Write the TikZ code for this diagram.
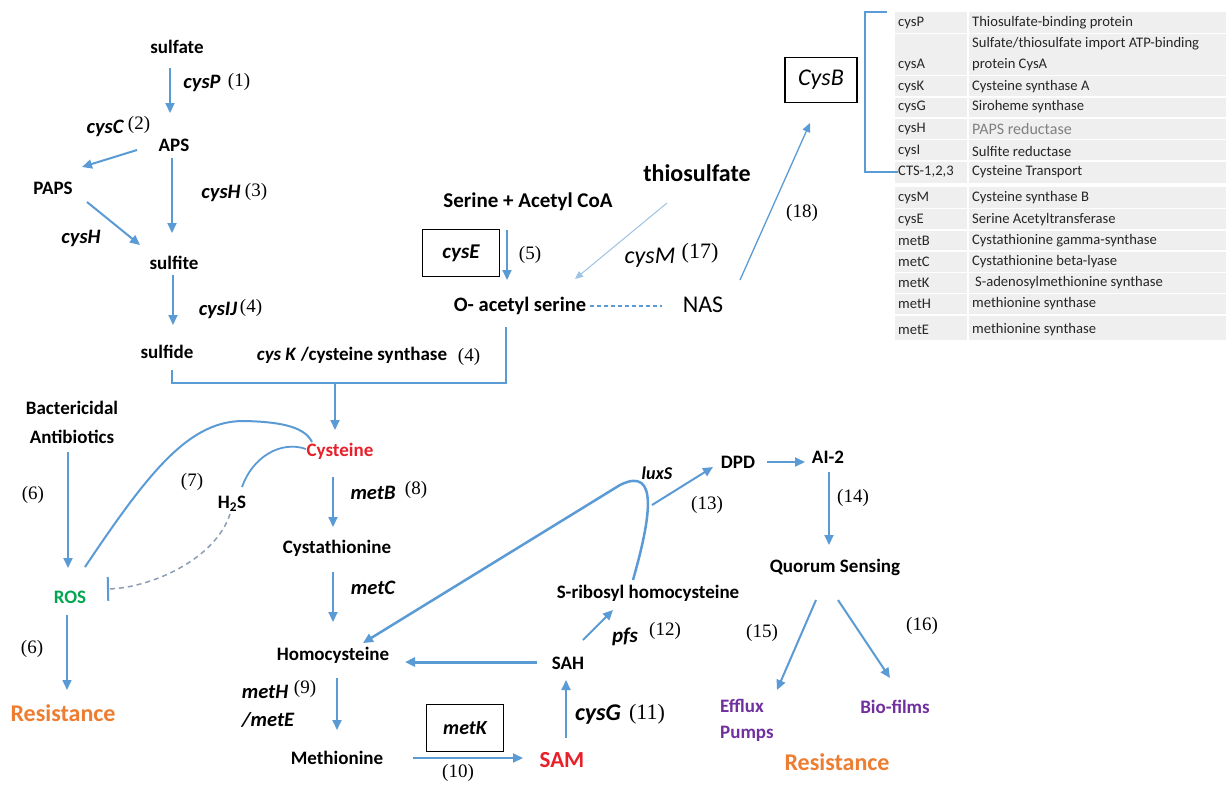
\documentclass[tikz,border=0pt]{standalone}
\usepackage{fontspec}
\setmainfont{Carlito}
\newfontfamily\numfont{Liberation Serif}
\usetikzlibrary{arrows.meta, calc}
\definecolor{pathblue}{HTML}{5B9BD5}
\definecolor{paleblue}{HTML}{9DC3E6}
\definecolor{inhibgray}{HTML}{8C9DB5}
\definecolor{cysred}{HTML}{E8202A}
\definecolor{rosgreen}{HTML}{00A651}
\definecolor{resorange}{HTML}{ED7D31}
\definecolor{qspurple}{HTML}{7030A0}
\definecolor{cellgray}{HTML}{EFEFEF}
\definecolor{celltext}{HTML}{262626}

\begin{document}
\begin{tikzpicture}[x=1pt, y=-1pt, every node/.style={inner sep=0pt},
    lbl/.style={font=\bfseries\fontsize{19}{22}\selectfont},
    gene/.style={font=\bfseries\itshape\fontsize{20.5}{22}\selectfont},
    num/.style={font=\numfont\fontsize{19}{21}\selectfont},
    big/.style={font=\fontsize{24}{26}\selectfont},
    genebox/.style={draw, line width=1.3pt, minimum width=77pt, minimum height=47pt},
    flow/.style={pathblue, line width=2pt, -{Triangle[length=10pt,width=9pt]}},
    cell/.style={anchor=west, font=\fontsize{14.6}{16}\selectfont, text=celltext}]
  \fill[white] (0,0) rectangle (1227,785);
  \useasboundingbox (0,0) rectangle (1227,785);

  % gene table
  \fill[cellgray] (895,12) rectangle (1226,340);
  \draw[white, line width=1.5pt] (968,12) -- (968,340)
    (895,33.5) -- (1226,33.5) (895,75.5) -- (1226,75.5) (895,97) -- (1226,97)
    (895,118) -- (1226,118) (895,139.5) -- (1226,139.5) (895,161) -- (1226,161)
    (895,208.5) -- (1226,208.5) (895,230) -- (1226,230) (895,251) -- (1226,251)
    (895,272.5) -- (1226,272.5) (895,293.5) -- (1226,293.5) (895,315) -- (1226,315);
  \draw[white, line width=4pt] (895,184.5) -- (1226,184.5);
  \node[cell] (tP) at (898,23) {cysP};
  \node[cell] at (972,23) {Thiosulfate-binding protein};
  \node[cell] at (972,44) {Sulfate/thiosulfate import ATP-binding};
  \node[cell] at (898,65) {cysA};
  \node[cell] at (972,65) {protein CysA};
  \node[cell] at (898,87) {cysK};
  \node[cell] at (972,87) {Cysteine synthase A};
  \node[cell] at (898,107) {cysG};
  \node[cell] at (972,107) {Siroheme synthase};
  \node[cell] at (898,129) {cysH};
  \node[cell, text=gray, font=\fontsize{16}{18}\selectfont] at (972,129) {PAPS reductase};
  \node[cell] at (898,151) {cysI};
  \node[cell] at (972,151) {Sulfite reductase};
  \node[cell] (tCTS) at (898,172) {CTS-1,2,3};
  \node[cell] at (972,172) {Cysteine Transport};
  \node[cell] at (898,198) {cysM};
  \node[cell] at (972,198) {Cysteine synthase B};
  \node[cell] at (898,220) {cysE};
  \node[cell] at (972,220) {Serine Acetyltransferase};
  \node[cell] at (898,241) {metB};
  \node[cell] at (972,241) {Cystathionine gamma-synthase};
  \node[cell] at (898,262) {metC};
  \node[cell] at (972,262) {Cystathionine beta-lyase};
  \node[cell] at (898,283) {metK};
  \node[cell] at (975,283) {S-adenosylmethionine synthase};
  \node[cell] at (898,304) {metH};
  \node[cell] at (972,304) {methionine synthase};
  \node[cell] at (898,330) {metE};
  \node[cell] at (972,330) {methionine synthase};
  \draw[pathblue, line width=1.2pt] ($(tP.west)+(-11,-11)$) -- ($(tP.west)+(-33,-11)$)
    |- (tCTS.west);

  % sulfate assimilation
  \node[lbl] (sulfate) at (177,47) {sulfate};
  \node[gene] at (202,83) {cysP};
  \node[num] at (239,82) {(1)};
  \node[lbl] (APS) at (174,145) {APS};
  \node[gene] at (105,128) {cysC};
  \node[num] at (139,125) {(2)};
  \node[lbl] (PAPS) at (53,188) {PAPS};
  \node[gene] at (221,193) {cysH};
  \node[num] at (256,192) {(3)};
  \node[gene] at (81,238) {cysH};
  \node[lbl] (sulfite) at (174,263) {sulfite};
  \node[gene] at (218,310) {cysIJ};
  \node[num] at (251,308) {(4)};
  \node[lbl] (sulfide) at (167,352) {sulfide};
  \node[lbl] at (352,355) {\textit{cys K} /cysteine synthase};
  \node[num] at (469,357) {(4)};
  \draw[flow] ($(sulfate)+(-7,21)$) -- ($(APS)+(-4,-32)$);
  \draw[flow] ($(APS)+(-37,5)$) -- ($(PAPS)+(29,-21)$);
  \draw[flow] ($(APS)+(-2,13)$) -- ($(sulfite)+(-2,-30)$);
  \draw[flow] ($(PAPS)+(34,14)$) -- ($(sulfite)+(-34,-18)$);
  \draw[flow] ($(sulfite)+(-1,12)$) -- ($(sulfide)+(6,-27)$);

  % serine branch
  \node[lbl, font=\bfseries\fontsize{21}{24}\selectfont] (serine) at (528,202) {Serine + Acetyl CoA};
  \node[genebox, font=\bfseries\itshape\fontsize{21}{22}\selectfont] (cysE) at (461,253) {cysE};
  \node[num] at (530,255) {(5)};
  \node[lbl, font=\bfseries\fontsize{20.5}{23}\selectfont] (OAS) at (520,306) {O- acetyl serine};
  \node[big, font=\bfseries\fontsize{24}{26}\selectfont] (thio) at (697,173) {thiosulfate};
  \node[big, font=\itshape\fontsize{24}{26}\selectfont] at (650,258) {cysM};
  \node[num, font=\numfont\fontsize{22}{24}\selectfont] at (700,253) {(17)};
  \node[big] (NAS) at (703,305) {NAS};
  \node[draw, line width=1.3pt, minimum width=72pt, minimum height=45pt,
    font=\itshape\fontsize{24}{26}\selectfont] (CysB) at (821,80) {CysB};
  \node[num] at (802,213) {(18)};
  \draw[flow] ($(serine)+(-21,28)$) -- ($(OAS)+(-13,-26)$);
  \draw[paleblue, line width=1pt, -{Triangle[length=8pt,width=7pt]}]
    ($(thio)+(-30,30)$) -- ($(OAS)+(55,-27)$);
  \draw[pathblue, line width=1.2pt, dash pattern=on 4pt off 3pt]
    ($(OAS)+(70,0)$) -- ($(NAS)+(-41,1)$);
  \draw[pathblue, line width=1.3pt, -{Triangle[length=9pt,width=8pt]}]
    ($(NAS)+(37,-25)$) -- ($(CysB)+(-11,43)$);

  % to cysteine
  \node[lbl, text=cysred] (Cys) at (340,451) {Cysteine};
  \coordinate (merge) at (335,383);
  \draw[pathblue, line width=2pt] ($(sulfide)+(5,18)$) |- ($(OAS)+(-14,77)$)
    -- ($(OAS)+(-14,21)$);
  \draw[flow] (merge) -- ($(Cys)+(-5,-21)$);

  % antibiotics and ROS
  \node[lbl, align=center, font=\bfseries\fontsize{19}{29}\selectfont] (bact) at (72,422) {Bactericidal\\Antibiotics};
  \node[num] at (33,495) {(6)};
  \node[lbl, text=rosgreen] (ROS) at (70,597) {ROS};
  \node[num] at (32,649) {(6)};
  \node[big, font=\bfseries\fontsize{24}{26}\selectfont, text=resorange] (resL) at (63,713) {Resistance};
  \node[num] at (192,482) {(7)};
  \node[lbl] (H2S) at (232,504) {H\textsubscript{2}S};
  \draw[flow] ($(bact)+(-4,30)$) -- ($(ROS)+(-2,-29)$);
  \draw[flow, line width=1.5pt] ($(ROS)+(-3,18)$) -- ($(resL)+(4,-23)$);
  \draw[pathblue, line width=2pt] ($(ROS)+(15,-30)$) .. controls (150,470) and (190,420)
    .. (245,421) .. controls (285,422) and (305,428) .. ($(Cys)+(-28,-9)$);
  \draw[pathblue, line width=1.8pt] ($(H2S)+(10,-17)$) .. controls (252,458) and (280,440)
    .. ($(Cys)+(-34,-2)$);
  \draw[inhibgray, line width=1.5pt, dash pattern=on 5pt off 4pt,
    -{Bar[width=24pt, line width=2pt, color=pathblue]}]
    ($(H2S)+(-2,10)$) .. controls (215,560) and (150,588) .. ($(ROS)+(37,-8)$);

  % methionine cycle
  \node[gene] at (373,493) {metB};
  \node[num] at (416,490) {(8)};
  \node[lbl] (cysta) at (337,548) {Cystathionine};
  \node[gene] at (373,588) {metC};
  \node[lbl] (homo) at (333,655) {Homocysteine};
  \node[gene] at (265,692) {metH};
  \node[num] at (305,689) {(9)};
  \node[gene] at (268,720) {/metE};
  \node[lbl] (meth) at (337,758) {Methionine};
  \node[genebox, font=\bfseries\itshape\fontsize{20}{22}\selectfont] (metK) at (465,728) {metK};
  \node[num] at (458,773) {(10)};
  \node[lbl, font=\bfseries\fontsize{23}{25}\selectfont, text=cysred] (SAM) at (562,760) {SAM};
  \node[gene, font=\bfseries\itshape\fontsize{24}{26}\selectfont] at (598,715) {cysG};
  \node[num, font=\numfont\fontsize{22}{24}\selectfont] at (647,714) {(11)};
  \node[lbl] (SAH) at (568,663) {SAH};
  \node[gene, font=\bfseries\itshape\fontsize{21}{22}\selectfont] at (625,637) {pfs};
  \node[num] at (665,631) {(12)};
  \node[lbl] (SRH) at (648,593) {S-ribosyl homocysteine};
  \draw[flow] ($(Cys)+(-7,26)$) -- ($(cysta)+(-4,-21)$);
  \draw[flow] ($(cysta)+(-4,24)$) -- ($(homo)+(0,-33)$);
  \draw[flow] ($(homo)+(4,23)$) -- ($(meth)+(0,-28)$);
  \draw[flow] ($(meth)+(76,0)$) -- ($(SAM)+(-39,-2)$);
  \draw[flow] ($(SAM)+(4,-22)$) -- ($(SAH)+(-2,17)$);
  \draw[flow, line width=3pt] ($(SAH)+(-31,-1)$) -- ($(homo)+(72,7)$);
  \draw[flow] ($(SAH)+(15,-23)$) -- ($(SRH)+(-35,17)$);

  % luxS and quorum sensing
  \node[gene, font=\bfseries\itshape\fontsize{18}{20}\selectfont] at (657,473) {luxS};
  \node[num] at (707,505) {(13)};
  \node[lbl] (DPD) at (738,462) {DPD};
  \node[lbl] (AI2) at (828,457) {AI-2};
  \node[num] at (853,498) {(14)};
  \node[lbl] (QS) at (835,567) {Quorum Sensing};
  \node[num] at (762,633) {(15)};
  \node[num] at (922,626) {(16)};
  \node[lbl, text=qspurple, align=left, anchor=west, font=\bfseries\fontsize{19}{26}\selectfont] (efflux) at (720,720) {Efflux\\Pumps};
  \node[lbl, text=qspurple] (bio) at (895,707) {Bio-films};
  \node[big, font=\bfseries\fontsize{24}{26}\selectfont, text=resorange] (resR) at (837,762) {Resistance};
  \coordinate (luxbranch) at (652,505);
  \draw[flow, line width=2.5pt] ($(SRH)+(-15,-13)$) .. controls (650,520) and (660,465)
    .. (620,485) -- ($(homo)+(30,-12)$);
  \draw[flow] (luxbranch) -- ($(DPD)+(-25,5)$);
  \draw[flow] ($(DPD)+(29,0)$) -- ($(AI2)+(-23,5)$);
  \draw[flow] ($(AI2)+(1,15)$) -- ($(QS)+(-6,-22)$);
  \draw[flow] ($(QS)+(-19,33)$) -- ($(QS)+(-58,123)$);
  \draw[flow] ($(QS)+(3,33)$) -- ($(bio)+(-5,-29)$);
\end{tikzpicture}
\end{document}
